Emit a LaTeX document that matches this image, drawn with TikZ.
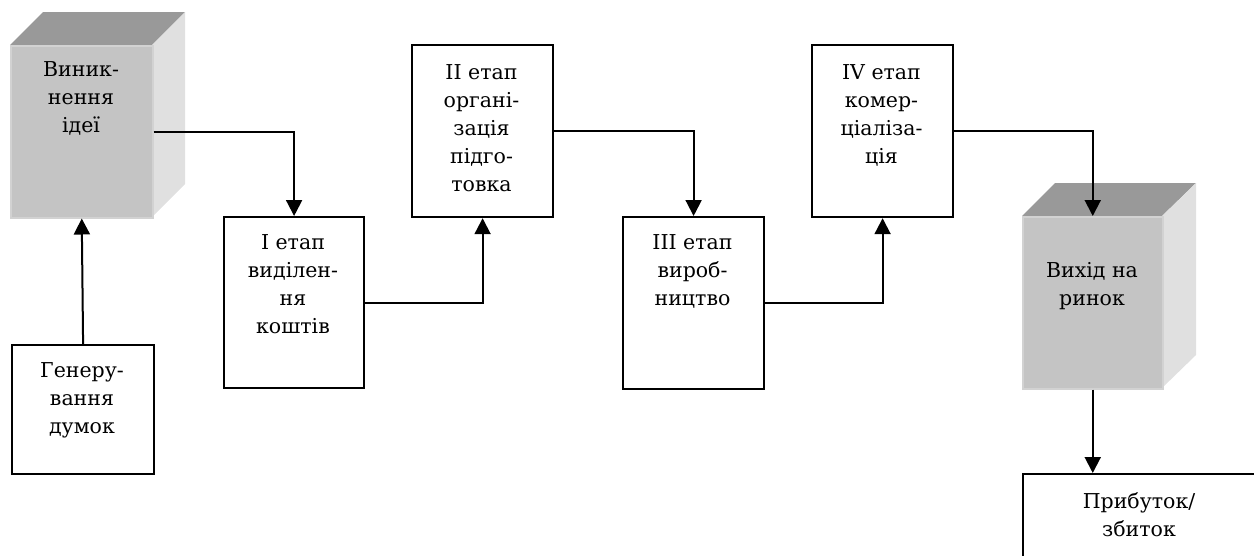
\documentclass[tikz,border=0pt]{standalone}
\usepackage{fontspec}
\setmainfont{DejaVu Serif}
\usetikzlibrary{arrows.meta}
\begin{document}
\begin{tikzpicture}[x=1pt,y=-1pt,
  box/.style={draw=black,line width=2.2pt,fill=white,inner sep=0pt,anchor=north west},
  front/.style={draw=gray!35,line width=1.5pt,fill=black!23,inner sep=0pt,anchor=north west},
  topface/.style={fill=black!40},
  sideface/.style={fill=black!12},
  lbl/.style={align=center,anchor=north,inner sep=0pt,font=\fontsize{20.5}{28}\selectfont},
  conn/.style={line width=2pt,-{Triangle[length=16pt,width=16pt]}}]
\useasboundingbox (0,0) rectangle (1254,555);
\clip (0,0) rectangle (1254,555);
% cube 1
\fill[topface] (10,45) -- (43,12) -- (185,12) -- (152,45) -- cycle;
\fill[sideface] (152,45) -- (185,12) -- (185,184) -- (152,217) -- cycle;
\node[front,minimum width=142,minimum height=172] (c1) at (10,45) {};
\node[lbl] (t1) at (81,61) {Виник-\\нення\\ідеї};
% cube 2
\fill[topface] (1022,216) -- (1055,183) -- (1196,183) -- (1162,216) -- cycle;
\fill[sideface] (1162,216) -- (1196,183) -- (1196,355) -- (1162,388) -- cycle;
\node[front,minimum width=140,minimum height=172] (c2) at (1022,216) {};
\node[lbl] (t2) at (1092,262) {Вихід на\\ринок};
% boxes
\node[box,minimum width=142,minimum height=129] (g) at (11,344) {};
\node[lbl] (tg) at (82,362) {Генеру-\\вання\\думок};
\node[box,minimum width=140,minimum height=171] (b1) at (223,216) {};
\node[lbl] (tb1) at (293,234) {I етап\\виділен-\\ня\\коштів};
\node[box,minimum width=141,minimum height=172] (b2) at (411,44) {};
\node[lbl] (tb2) at (481.5,64) {II етап\\органі-\\зація\\підго-\\товка};
\node[box,minimum width=141,minimum height=172] (b3) at (622,216) {};
\node[lbl] (tb3) at (692.5,234) {III етап\\вироб-\\ництво};
\node[box,minimum width=141,minimum height=172] (b4) at (811,44) {};
\node[lbl] (tb4) at (881.5,64) {IV етап\\комер-\\ціаліза-\\ція};
\node[box,minimum width=234,minimum height=120] (p) at (1022,473) {};
\node[lbl] (tp) at (1139,492) {Прибуток/\\збиток};
% connectors
\draw[conn] (g.north) -- (c1.south);
\draw[conn] (c1.east) -| (b1.north);
\draw[conn] (b1.east) -| (b2.south);
\draw[conn] (b2.east) -| (b3.north);
\draw[conn] (b3.east) -| (b4.south);
\draw[conn] (b4.east) -| (c2.north);
\draw[conn] (c2.south) -- (c2.south |- p.north);
\end{tikzpicture}
\end{document}
